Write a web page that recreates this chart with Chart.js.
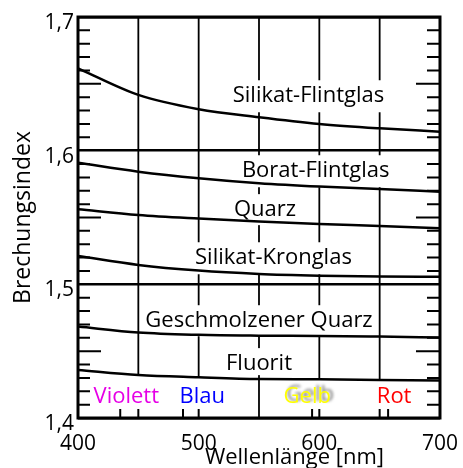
<!DOCTYPE html>
<html>
<head>
<meta charset="utf-8">
<script src="https://cdn.jsdelivr.net/npm/chart.js@4"></script>
<style>
  html, body { margin: 0; padding: 0; background: #fff; }
  #wrap { width: 463px; height: 468px; }
</style>
</head>
<body>
<div id="wrap"><canvas id="brechungChart" width="463" height="468"></canvas></div>
<script>
// Wellenlaengen (nm) und Brechungsindizes
const wellenlaengen = [400, 450, 500, 550, 600, 650, 700];
const silikatFlintglas = [1.6616, 1.6417, 1.6310, 1.6250, 1.6200, 1.6167, 1.6142];
const boratFlintglas = [1.5910, 1.5843, 1.5793, 1.5756, 1.5731, 1.5713, 1.5693];
const quarz = [1.5562, 1.5519, 1.5492, 1.5470, 1.5452, 1.5437, 1.5420];
const silikatKronglas = [1.5212, 1.5145, 1.5103, 1.5078, 1.5065, 1.5058, 1.5056];
const geschmQuarz = [1.4684, 1.4639, 1.4622, 1.4616, 1.4614, 1.4609, 1.4603];
const fluorit = [1.4360, 1.4322, 1.4305, 1.4292, 1.4290, 1.4285, 1.4280];

// Beschriftungen der Kurven (Mitte: Wellenlaenge, Index)
const kurvenNamen = ['Silikat-Flintglas', 'Borat-Flintglas', 'Quarz', 'Silikat-Kronglas', 'Geschmolzener Quarz', 'Fluorit'];
const namenX = [591, 597, 555, 562, 550, 550];
const namenY = [1.6409, 1.5848, 1.5557, 1.5197, 1.4726, 1.4405];

// Farben des Spektrums unten
const farbNamen = ['Violett', 'Blau', 'Gelb', 'Rot'];
const farbX = [440, 503, 590, 662];
const farbWerte = ['#e600e6', '#0000ff', '#ffff00', '#ff0000'];
const farbY = 1.4157;

// Gitter und Markierungen
const xGitter = [450, 500, 550, 600, 650];
const xVollLinie = [550];
const xUntenStriche = [435, 450, 487, 500, 594, 600, 650, 657];

const toPoints = (ys) => wellenlaengen.map((x, i) => ({ x: x, y: ys[i] }));

const serien = [silikatFlintglas, boratFlintglas, quarz, silikatKronglas, geschmQuarz, fluorit];

const gitterPlugin = {
    id: 'gitter',
    beforeDatasetsDraw(chart) {
        const { ctx, chartArea, scales } = chart;
        const xs = scales.x, ys = scales.y;
        ctx.save();
        ctx.strokeStyle = '#000';
        ctx.lineWidth = 1.8;
        xGitter.forEach((w) => {
            const px = xs.getPixelForValue(w);
            let endY = chartArea.bottom;
            if (!xVollLinie.includes(w)) {
                // Linie endet an der Fluorit-Kurve
                const i = wellenlaengen.indexOf(w);
                endY = ys.getPixelForValue(fluorit[i]);
            }
            ctx.beginPath();
            ctx.moveTo(px, chartArea.top);
            ctx.lineTo(px, endY);
            ctx.stroke();
        });

        // Kurvennamen mit weissem Hintergrund (verdeckt das Gitter)
        ctx.textAlign = 'center';
        ctx.textBaseline = 'middle';
        ctx.font = '22px "Open Sans"';
        kurvenNamen.forEach((t, i) => {
            const px = xs.getPixelForValue(namenX[i]);
            const py = ys.getPixelForValue(namenY[i]);
            const m = ctx.measureText(t);
            const asc = m.actualBoundingBoxAscent, desc = m.actualBoundingBoxDescent;
            ctx.fillStyle = '#fff';
            ctx.fillRect(px - m.width / 2 - 3, py - asc - 6, m.width + 6, asc + desc + 11);
            ctx.fillStyle = '#000';
            ctx.fillText(t, px, py);
        });
        ctx.restore();
    },
    afterDatasetsDraw(chart) {
        const { ctx, chartArea, scales } = chart;
        const xs = scales.x, ys = scales.y;
        ctx.save();
        ctx.strokeStyle = '#000';
        ctx.lineWidth = 2;
        // kleine Striche an der y-Achse (links und rechts)
        for (let k = 1; k < 30; k++) {
            if (k % 10 === 0) continue;
            const v = 1.4 + k / 100;
            const py = ys.getPixelForValue(v);
            const lang = k % 5 === 0;
            ctx.beginPath();
            ctx.moveTo(chartArea.left, py);
            ctx.lineTo(chartArea.left + (lang ? 23 : 12), py);
            ctx.moveTo(chartArea.right, py);
            ctx.lineTo(chartArea.right - (lang ? 24 : 13), py);
            ctx.stroke();
        }
        // Striche unten
        xUntenStriche.forEach((w) => {
            const px = xs.getPixelForValue(w);
            ctx.beginPath();
            ctx.moveTo(px, chartArea.bottom);
            ctx.lineTo(px, chartArea.bottom - 9);
            ctx.stroke();
        });
        // Rahmen
        ctx.lineWidth = 3;
        ctx.strokeRect(chartArea.left, chartArea.top, chartArea.right - chartArea.left, chartArea.bottom - chartArea.top);
        ctx.restore();
    },
    afterDraw(chart) {
        const { ctx, chartArea, scales } = chart;
        const xs = scales.x, ys = scales.y;
        ctx.save();
        ctx.textAlign = 'center';
        ctx.textBaseline = 'middle';
        ctx.font = '22px "Open Sans"';
        farbNamen.forEach((t, i) => {
            const px = xs.getPixelForValue(farbX[i]);
            const py = ys.getPixelForValue(farbY);
            ctx.save();
            if (t === 'Gelb') {
                ctx.fillStyle = 'rgba(90,90,90,0.85)';
                ctx.filter = 'blur(1.5px)';
                ctx.fillText(t, px + 3, py - 2);
                ctx.filter = 'none';
            }
            ctx.fillStyle = farbWerte[i];
            ctx.fillText(t, px, py);
            ctx.restore();
        });
        // Achsentitel x
        ctx.textBaseline = 'alphabetic';
        ctx.fillStyle = '#000';
        ctx.fillText('Wellenlänge [nm]', chartArea.left + (chartArea.right - chartArea.left) * 0.598, 464);
        ctx.restore();
    }
};

Chart.defaults.font.family = '"Open Sans", sans-serif';
Chart.defaults.color = '#000';

const ctx = document.getElementById('brechungChart');
new Chart(ctx, {
    type: 'line',
    data: {
        datasets: serien.map((s, i) => ({
            label: kurvenNamen[i],
            data: toPoints(s),
            borderColor: '#000',
            borderWidth: 2.5,
            pointRadius: 0,
            fill: false,
            cubicInterpolationMode: 'monotone'
        }))
    },
    options: {
        responsive: false,
        animation: false,
        devicePixelRatio: 1,
        layout: { padding: { top: 17, right: 21, left: 0, bottom: 0 } },
        plugins: {
            legend: { display: false },
            tooltip: { enabled: false }
        },
        scales: {
            x: {
                type: 'linear',
                min: 400,
                max: 700,
                grid: { display: false },
                border: { display: false },
                ticks: { stepSize: 100, font: { size: 21 }, padding: 5, maxRotation: 0 },
                afterFit: (scale) => { scale.height = 50; }
            },
            y: {
                type: 'linear',
                min: 1.4,
                max: 1.7,
                grid: { color: '#000', lineWidth: 2.5, drawTicks: false },
                border: { display: false },
                ticks: {
                    stepSize: 0.1,
                    font: { size: 21 },
                    padding: 4,
                    labelOffset: 6,
                    callback: (v) => v.toFixed(1).replace('.', ',')
                },
                title: {
                    display: true,
                    text: 'Brechungsindex',
                    font: { size: 23 },
                    padding: { top: 10, bottom: 0 }
                },
                afterFit: (scale) => { scale.width = 78; }
            }
        }
    },
    plugins: [gitterPlugin]
});
</script>
</body>
</html>
